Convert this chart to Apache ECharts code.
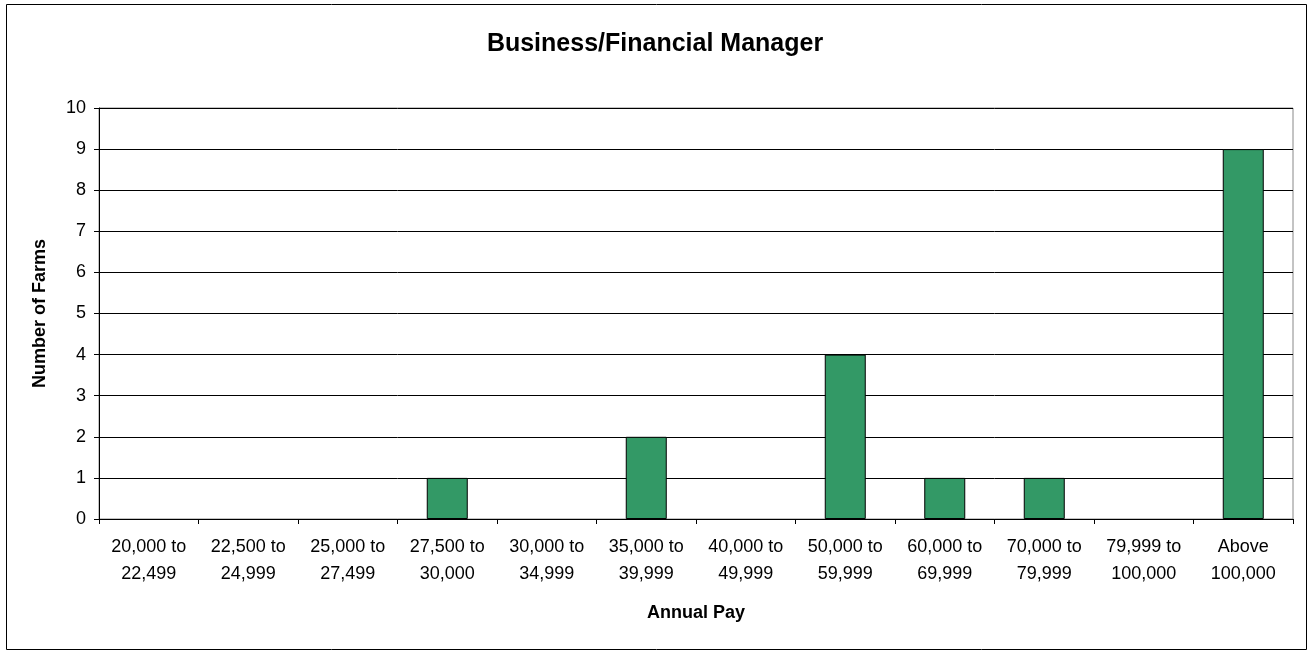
<!DOCTYPE html>
<html>
<head>
<meta charset="utf-8">
<script src="https://cdn.jsdelivr.net/npm/echarts@6/dist/echarts.min.js"></script>
<style>
html,body{margin:0;padding:0;background:#fff;}
#chart{width:1310px;height:651px;}
</style>
</head>
<body>
<div id="chart"></div>
<script>
var categories = ['20,000 to\n22,499','22,500 to\n24,999','25,000 to\n27,499','27,500 to\n30,000','30,000 to\n34,999','35,000 to\n39,999','40,000 to\n49,999','50,000 to\n59,999','60,000 to\n69,999','70,000 to\n79,999','79,999 to\n100,000','Above\n100,000'];
var farms = [0,0,0,1,0,2,0,4,1,1,0,9];
var yTicks = {min:0, max:10, interval:1};

var font = '"Liberation Sans", Arial, sans-serif';
var chart = echarts.init(document.getElementById('chart'));
chart.setOption({
  animation:false,
  backgroundColor:'#fff',
  title:{
    text:'Business/Financial Manager',
    left:'center', top:27,
    textStyle:{fontFamily:font, fontSize:25, fontWeight:'bold', color:'#000'}
  },
  graphic:[{
    type:'rect', silent:true, z:-1,
    shape:{x:6.5, y:4.5, width:1300, height:645},
    style:{fill:'none', stroke:'#000', lineWidth:1}
  }],
  grid:{left:99, right:17, top:108, bottom:132, show:true, borderColor:'#888', borderWidth:1, backgroundColor:'transparent'},
  xAxis:{
    type:'category',
    data:categories,
    name:'Annual Pay',
    nameLocation:'middle',
    nameGap:85,
    nameTextStyle:{fontFamily:font, fontSize:18, fontWeight:'bold', color:'#000'},
    axisLine:{show:true, lineStyle:{color:'#000', width:1}},
    axisTick:{show:true, alignWithLabel:false, length:5, lineStyle:{color:'#000'}},
    axisLabel:{interval:0, margin:15, fontFamily:font, fontSize:18, lineHeight:27, color:'#000'},
    splitLine:{show:false}
  },
  yAxis:{
    type:'value',
    min:yTicks.min, max:yTicks.max, interval:yTicks.interval,
    name:'Number of Farms',
    nameLocation:'middle',
    nameGap:50,
    nameRotate:90,
    nameTextStyle:{fontFamily:font, fontSize:18, fontWeight:'bold', color:'#000'},
    axisLine:{show:true, lineStyle:{color:'#000', width:1}},
    axisTick:{show:true, inside:false, length:5, lineStyle:{color:'#000'}},
    axisLabel:{margin:13, fontFamily:font, fontSize:18, color:'#000'},
    splitLine:{show:true, lineStyle:{color:'#000', width:1}}
  },
  series:[{
    type:'bar',
    data:farms.map(function(v){ return v === 0 ? {value:v, itemStyle:{borderWidth:0, opacity:0}} : v; }),
    barWidth:41,
    itemStyle:{color:'#339966', borderColor:'#000', borderWidth:1}
  }]
});
</script>
</body>
</html>
